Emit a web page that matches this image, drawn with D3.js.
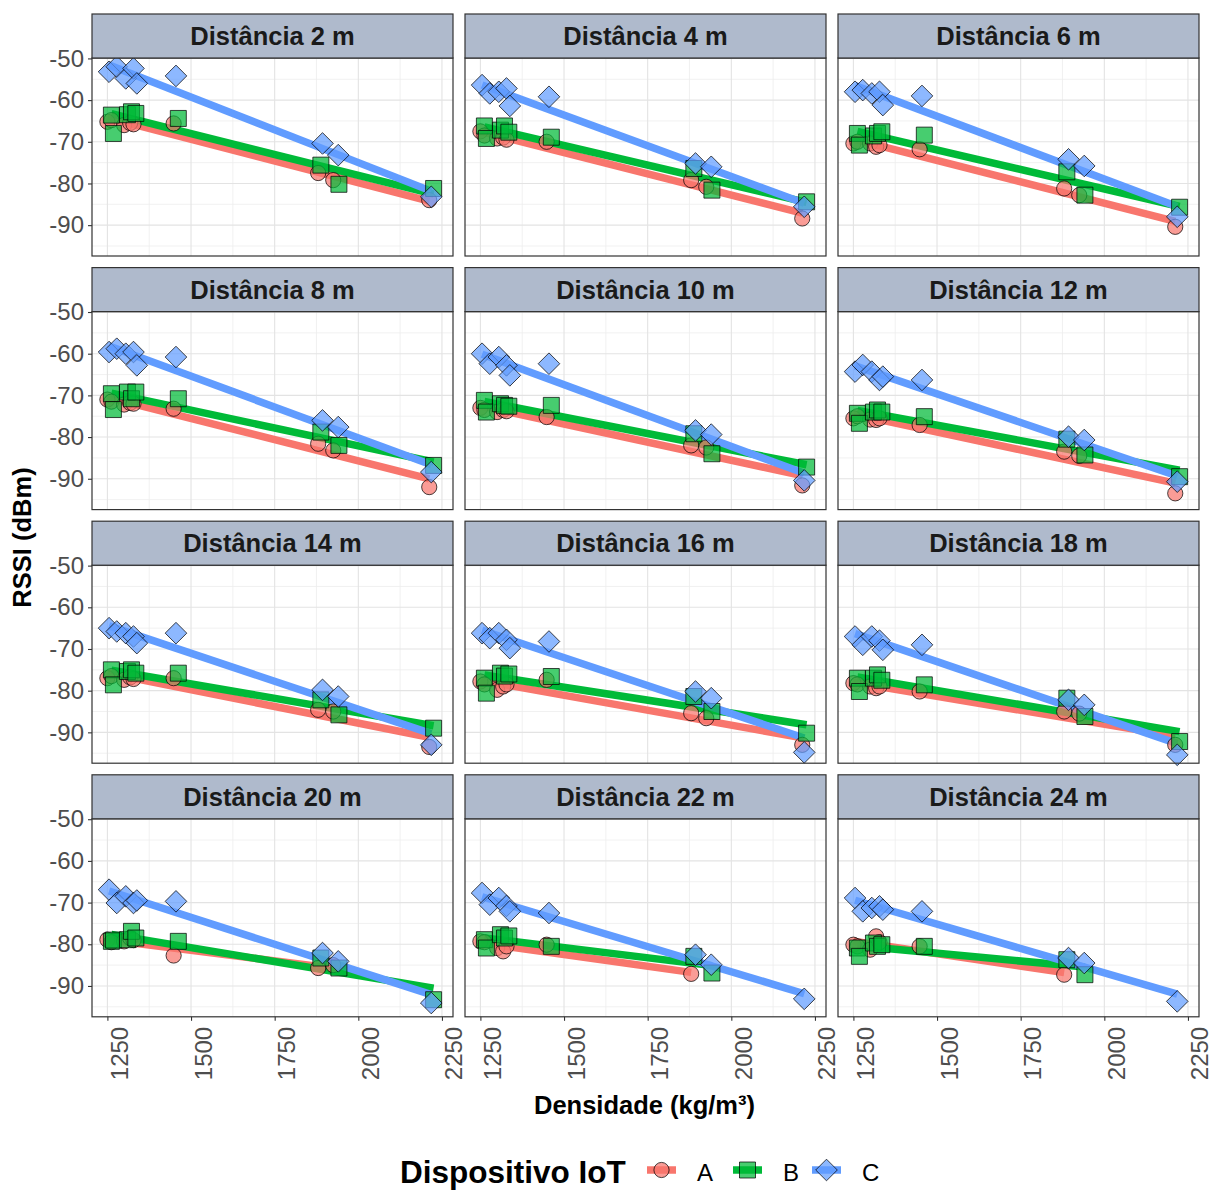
<!DOCTYPE html>
<html>
<head>
<meta charset="utf-8">
<script src="https://cdn.jsdelivr.net/npm/d3@7"></script>
<style>
  body { margin: 0; background: #ffffff; }
  svg { display: block; }
  text { font-family: "Liberation Sans", Arial, sans-serif; }
</style>
</head>
<body>
<svg id="chart" width="1213" height="1190"></svg>
<script>
// ---- data -------------------------------------------------------------
const distances = [2, 4, 6, 8, 10, 12, 14, 16, 18, 20, 22, 24];
const devices = ["A", "B", "C"];

// sample densities (kg/m³) measured for each IoT device
const densA = [1250, 1262, 1300, 1318, 1328, 1448, 1880, 1925, 2212];
const densB = [1262, 1268, 1310, 1322, 1335, 1462, 1888, 1942, 2225];
const densC = [1255, 1278, 1305, 1328, 1338, 1455, 1893, 1940, 2218];

// RSSI (dBm) per distance, same order as the density arrays
const rssiA = [
  [-65.2, -64.8, -66.0, -65.5, -65.8, -65.6, -77.5, -79.2, -84.0],
  [-67.5, -68.5, -69.2, -69.0, -69.5, -70.0, -79.2, -80.8, -88.4],
  [-70.4, -70.0, -70.4, -71.2, -70.8, -71.8, -81.2, -82.8, -90.4],
  [-71.0, -71.5, -72.2, -71.8, -72.0, -73.2, -81.6, -83.2, -92.0],
  [-73.0, -73.5, -74.0, -73.5, -73.8, -75.2, -82.0, -82.5, -91.6],
  [-75.5, -75.0, -75.8, -75.9, -75.5, -77.1, -83.5, -84.5, -93.5],
  [-77.0, -76.5, -77.4, -76.8, -77.2, -77.0, -84.6, -85.0, -93.5],
  [-77.8, -78.5, -79.8, -79.0, -78.5, -77.4, -85.4, -86.6, -93.0],
  [-78.2, -78.5, -79.0, -79.4, -79.0, -80.2, -85.0, -85.5, -93.0],
  [-78.9, -79.5, -79.3, -78.5, -79.0, -82.7, -85.7, -85.0, null],
  [-79.3, -79.5, -80.9, -81.7, -80.5, -80.1, -87.1, null, null],
  [-80.1, -80.5, -81.3, -78.1, -79.5, -80.5, -87.3, null, null]
];
const rssiB = [
  [-63.6, -68.0, -63.5, -62.8, -63.2, -64.4, -75.6, -80.2, -81.2],
  [-66.2, -69.2, -67.2, -66.2, -67.7, -68.9, -76.4, -81.6, -84.4],
  [-68.0, -70.8, -68.6, -68.0, -67.6, -68.4, -77.2, -82.8, -85.7],
  [-69.6, -73.4, -69.2, -70.8, -69.2, -70.8, -78.8, -82.0, -86.8],
  [-71.2, -74.0, -72.0, -72.4, -72.6, -72.4, -79.2, -84.0, -87.2],
  [-74.3, -76.7, -74.0, -73.5, -74.0, -75.1, -80.5, -84.3, -89.5],
  [-75.0, -78.6, -75.4, -75.0, -75.8, -75.8, -82.2, -85.8, -89.0],
  [-77.0, -80.6, -75.8, -76.5, -76.0, -76.6, -81.4, -85.0, -90.2],
  [-77.0, -80.2, -77.0, -76.2, -77.5, -78.6, -81.8, -86.2, -92.2],
  [-79.3, -79.0, -78.9, -76.9, -78.5, -79.3, -83.3, -85.7, -93.3],
  [-78.9, -80.9, -77.7, -78.5, -78.0, -80.5, -82.9, -86.9, null],
  [-80.9, -82.9, -79.7, -80.5, -80.1, -80.5, -83.7, -87.3, null]
];
const rssiC = [
  [-53.2, -52.0, -54.8, -52.4, -56.0, -54.2, -70.4, -73.2, -83.2],
  [-56.4, -58.4, -58.0, -57.2, -61.4, -59.2, -75.2, -76.0, -85.6],
  [-58.0, -57.6, -58.4, -58.0, -61.2, -59.0, -74.2, -75.8, -88.0],
  [-59.6, -58.8, -60.0, -59.6, -62.8, -60.8, -76.0, -77.6, -88.4],
  [-60.0, -62.4, -60.8, -62.8, -65.2, -62.4, -78.4, -79.4, -90.4],
  [-64.3, -62.7, -64.3, -66.3, -65.5, -66.3, -79.9, -80.7, -90.7],
  [-65.0, -65.8, -66.2, -67.0, -68.6, -66.2, -79.8, -81.4, -93.0],
  [-66.2, -67.4, -66.2, -67.8, -69.8, -68.2, -80.2, -81.8, -94.8],
  [-67.0, -69.0, -67.0, -68.0, -70.2, -69.0, -82.2, -83.4, -95.4],
  [-66.9, -70.1, -68.5, -70.1, -69.5, -69.7, -82.1, -84.1, -94.1],
  [-67.7, -70.5, -68.9, -70.8, -72.1, -72.5, -82.5, -84.9, -93.1],
  [-68.9, -72.1, -71.3, -70.9, -71.7, -72.1, -83.3, -84.5, -93.7]
];

const xTicks = [1250, 1500, 1750, 2000, 2250];
const yTicks = [-50, -60, -70, -80, -90];
const xMinor = [1375, 1625, 1875, 2125];
const yMinor = [-55, -65, -75, -85, -95];

// ---- styling ----------------------------------------------------------
const colors = { A: "#F8766D", B: "#00BA38", C: "#619CFF" };
const dens = { A: densA, B: densB, C: densC };
const rssi = { A: rssiA, B: rssiB, C: rssiC };

const svg = d3.select("#chart");
const colLeft = [92, 465, 838];
const panelW = 361;
const stripH = 44;
const panelH = 198;
const rowStep = 253.6;
const firstStrip = 14;

const xDomain = [1204, 2283];
const yDomain = [-97.4, -49.9];

// symbol path generators (centered at 0,0)
function shapePath(dev) {
  if (dev === "A") {
    const r = 7.6;
    return `M${-r},0A${r},${r} 0 1,0 ${r},0A${r},${r} 0 1,0 ${-r},0Z`;
  }
  if (dev === "B") {
    const h = 8;
    return `M${-h},${-h}H${h}V${h}H${-h}Z`;
  }
  const d = 10.8;
  return `M0,${-d}L${d},0L0,${d}L${-d},0Z`;
}

// least-squares fit over a device's points in one panel
function fitLine(xs, ys) {
  const pts = xs.map((x, i) => [x, ys[i]]).filter(p => p[1] !== null);
  const mx = d3.mean(pts, p => p[0]);
  const my = d3.mean(pts, p => p[1]);
  const sxy = d3.sum(pts, p => (p[0] - mx) * (p[1] - my));
  const sxx = d3.sum(pts, p => (p[0] - mx) ** 2);
  const b = sxy / sxx, a = my - b * mx;
  const [x0, x1] = d3.extent(pts, p => p[0]);
  return [[x0, a + b * x0], [x1, a + b * x1]];
}

const tickFont = 24;

distances.forEach((dist, k) => {
  const row = Math.floor(k / 3), col = k % 3;
  const left = colLeft[col];
  const stripTop = firstStrip + row * rowStep;
  const top = stripTop + stripH;

  const x = d3.scaleLinear().domain(xDomain).range([left, left + panelW]);
  const y = d3.scaleLinear().domain(yDomain).range([top + panelH, top]);

  const g = svg.append("g");

  // panel background + grid
  g.append("rect").attr("x", left).attr("y", top).attr("width", panelW).attr("height", panelH)
    .attr("fill", "#ffffff");
  const grid = g.append("g");
  xMinor.forEach(v => grid.append("line").attr("x1", x(v)).attr("x2", x(v))
    .attr("y1", top).attr("y2", top + panelH).attr("stroke", "#EDEDED").attr("stroke-width", 0.8));
  yMinor.forEach(v => grid.append("line").attr("y1", y(v)).attr("y2", y(v))
    .attr("x1", left).attr("x2", left + panelW).attr("stroke", "#EDEDED").attr("stroke-width", 0.8));
  xTicks.forEach(v => grid.append("line").attr("x1", x(v)).attr("x2", x(v))
    .attr("y1", top).attr("y2", top + panelH).attr("stroke", "#E3E3E3").attr("stroke-width", 1.1));
  yTicks.forEach(v => grid.append("line").attr("y1", y(v)).attr("y2", y(v))
    .attr("x1", left).attr("x2", left + panelW).attr("stroke", "#E3E3E3").attr("stroke-width", 1.1));

  // regression lines
  const line = d3.line().x(d => x(d[0])).y(d => y(d[1]));
  devices.forEach(dev => {
    g.append("path").datum(fitLine(dens[dev], rssi[dev][k]))
      .attr("d", line).attr("fill", "none")
      .attr("stroke", colors[dev]).attr("stroke-width", 7.5);
  });

  // points
  devices.forEach(dev => {
    const pts = dens[dev].map((d, i) => [d, rssi[dev][k][i]]).filter(p => p[1] !== null);
    g.selectAll(null).data(pts).enter().append("path")
      .attr("d", shapePath(dev))
      .attr("transform", p => `translate(${x(p[0])},${y(p[1])})`)
      .attr("fill", colors[dev]).attr("fill-opacity", 0.72)
      .attr("stroke", "#000").attr("stroke-opacity", 0.8).attr("stroke-width", 0.9);
  });

  // panel border
  g.append("rect").attr("x", left).attr("y", top).attr("width", panelW).attr("height", panelH)
    .attr("fill", "none").attr("stroke", "#333333").attr("stroke-width", 1.2);

  // strip
  g.append("rect").attr("x", left).attr("y", stripTop).attr("width", panelW).attr("height", stripH)
    .attr("fill", "#AFBACC").attr("stroke", "#333333").attr("stroke-width", 1.2);
  g.append("text").attr("x", left + panelW / 2).attr("y", stripTop + stripH / 2 + 9)
    .attr("text-anchor", "middle").attr("font-size", 25.5).attr("font-weight", "bold")
    .attr("fill", "#1A1A1A").text(`Distância ${dist} m`);

  // y axis on the first column
  if (col === 0) {
    const ax = g.append("g").attr("transform", `translate(${left},0)`)
      .call(d3.axisLeft(y).tickValues(yTicks).tickSize(4).tickPadding(4)
        .tickFormat(d => String(d)));
    ax.select(".domain").remove();
    ax.selectAll(".tick line").attr("stroke", "#333333").attr("stroke-width", 1.1);
    ax.selectAll(".tick text").attr("font-size", tickFont).attr("fill", "#4D4D4D")
      .attr("font-family", "Liberation Sans, Arial, sans-serif");
  }

  // x axis on the bottom row
  if (row === 3) {
    const ax = g.append("g").attr("transform", `translate(0,${top + panelH})`)
      .call(d3.axisBottom(x).tickValues(xTicks).tickSize(4).tickFormat(d3.format("d")));
    ax.select(".domain").remove();
    ax.selectAll(".tick line").attr("stroke", "#333333").attr("stroke-width", 1.1);
    ax.selectAll(".tick text")
      .attr("font-size", tickFont).attr("fill", "#4D4D4D")
      .attr("font-family", "Liberation Sans, Arial, sans-serif")
      .attr("text-anchor", "end").attr("dy", null).attr("y", null)
      .attr("transform", "translate(20,10) rotate(-90)");
  }
});

// axis titles
svg.append("text").attr("transform", "translate(31,537.5) rotate(-90)")
  .attr("text-anchor", "middle").attr("font-size", 25.5).attr("font-weight", "bold")
  .attr("fill", "#000").text("RSSI (dBm)");
svg.append("text").attr("x", 644.5).attr("y", 1114)
  .attr("text-anchor", "middle").attr("font-size", 25.5).attr("font-weight", "bold")
  .attr("fill", "#000").text("Densidade (kg/m³)");

// legend
const legend = svg.append("g");
legend.append("text").attr("x", 400).attr("y", 1183).attr("font-size", 31.5)
  .attr("font-weight", "bold").attr("fill", "#000").text("Dispositivo IoT");
const keyX = [647, 733, 812];
devices.forEach((dev, i) => {
  const cx = keyX[i] + 14.5, cy = 1170;
  legend.append("line").attr("x1", keyX[i]).attr("x2", keyX[i] + 29)
    .attr("y1", cy).attr("y2", cy).attr("stroke", colors[dev]).attr("stroke-width", 7.5);
  legend.append("path").attr("d", shapePath(dev)).attr("transform", `translate(${cx},${cy})`)
    .attr("fill", colors[dev]).attr("fill-opacity", 0.72)
    .attr("stroke", "#000").attr("stroke-opacity", 0.8).attr("stroke-width", 0.9);
  legend.append("text").attr("x", keyX[i] + 50).attr("y", 1181).attr("font-size", 24)
    .attr("fill", "#000").text(dev);
});
</script>
</body>
</html>
